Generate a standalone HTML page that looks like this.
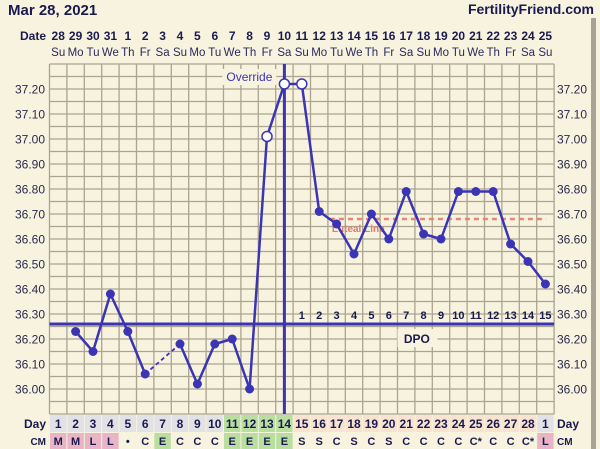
<!DOCTYPE html>
<html><head><meta charset="utf-8"><style>
html,body{margin:0;padding:0;background:#f7f3de;}
svg{display:block;font-family:"Liberation Sans",Verdana,sans-serif;}
</style></head><body>
<svg id="chart" width="600" height="449" viewBox="0 0 600 449">
<rect x="0" y="0" width="600" height="449" fill="#f7f3de"/>
<rect x="591" y="18" width="5" height="431" fill="#a8a396"/>
<text x="8" y="15" font-size="15" font-weight="bold" fill="#1a1a4e">Mar 28, 2021</text>
<text x="594" y="14" font-size="14" font-weight="bold" fill="#1a1a4e" text-anchor="end">FertilityFriend.com</text>
<text x="46" y="40" font-size="12" font-weight="bold" fill="#1a1a4e" text-anchor="end">Date</text>
<g id="grid"></g>
<g id="rows"></g>
<g id="marks"></g>
</svg>
<script>
const dates = ["28","29","30","31","1","2","3","4","5","6","7","8","9","10","11","12","13","14","15","16","17","18","19","20","21","22","23","24","25"];
const weekdays = ["Su","Mo","Tu","We","Th","Fr","Sa","Su","Mo","Tu","We","Th","Fr","Sa","Su","Mo","Tu","We","Th","Fr","Sa","Su","Mo","Tu","We","Th","Fr","Sa","Su"];
const cycleDays = ["1","2","3","4","5","6","7","8","9","10","11","12","13","14","15","16","17","18","19","20","21","22","23","24","25","26","27","28","1"];
const cmValues = ["M","M","L","L","•","C","E","C","C","C","E","E","E","E","S","S","C","S","C","S","C","C","C","C","C*","C","C","C*","L"];
const temps = [null,36.23,36.15,36.38,36.23,36.06,null,36.18,36.02,36.18,36.20,36.00,37.01,37.22,37.22,36.71,36.66,36.54,36.70,36.60,36.79,36.62,36.60,36.79,36.79,36.79,36.58,36.51,36.42];
const openPoints = [12,13,14];
const yTicks = [36.00,36.10,36.20,36.30,36.40,36.50,36.60,36.70,36.80,36.90,37.00,37.10,37.20];
const dpoLabels = ["1","2","3","4","5","6","7","8","9","10","11","12","13","14","15"];
const coverline = 36.26;
const lutealLine = 36.68;
const ovulationIndex = 13;
const dpoStart = 14;

const NS="http://www.w3.org/2000/svg";
const L=49.5, W=17.4, N=29, TOP=64, BOT=414;
const xc=i=>L+(i+0.5)*W;
const y=v=>89+(37.2-v)*250;
function mk(tag,attrs,parent,text){const e=document.createElementNS(NS,tag);for(const k in attrs)e.setAttribute(k,attrs[k]);if(text!==undefined)e.textContent=text;parent.appendChild(e);return e;}
const svg=document.getElementById('chart');
const grid=document.getElementById('grid'), rows=document.getElementById('rows'), marks=document.getElementById('marks');

dates.forEach((d,i)=>{
  const t=mk('text',{x:xc(i),y:40,'font-size':12,'font-weight':'bold',fill:'#1a1a4e','text-anchor':'middle'},svg,d);
  
  
  const w=mk('text',{x:xc(i),y:56,'font-size':11.5,fill:'#2a2a5e','text-anchor':'middle'},svg,weekdays[i]);
  
  
});
for(let v=35.90;v<=37.301;v+=0.05){
  const yy=y(v); if(yy<TOP-0.5||yy>BOT+0.5) continue;
  const l=mk('line',{x1:L,x2:L+N*W,y1:yy,y2:yy,stroke:'#aaa491','stroke-width':1.3},grid);
  
  
}
for(let i=0;i<=N;i++){
  const l=mk('line',{x1:L+i*W,x2:L+i*W,y1:TOP,y2:BOT,stroke:'#aaa491','stroke-width':1.3},grid);
  
  
}
yTicks.forEach(v=>{
  const a=mk('text',{x:45,y:y(v)+4.5,'font-size':12,fill:'#2a2a4e','text-anchor':'end'},svg,v.toFixed(2));
  
  
  const b=mk('text',{x:557,y:y(v)+4.5,'font-size':12,fill:'#2a2a4e'},svg,v.toFixed(2));
  
  
});
cycleDays.forEach((d,i)=>{
  let bg='#e2e2e6'; if(i>=10&&i<=13) bg='#b9dea0'; else if(i>=14&&i<=27) bg='#f7e3cf';
  const r=mk('rect',{x:L+i*W+0.5,y:415,width:W-1,height:17,fill:bg},rows);
  
  
  const t=mk('text',{x:xc(i),y:428,'font-size':12,'font-weight':'bold',fill:'#1a1a4e','text-anchor':'middle'},rows,d);
  
  
  const c=cmValues[i];
  let cb='#f7f3de'; if(c==='M'||c==='L') cb='#e8b4c6'; else if(c==='E') cb='#b9dea0';
  const r2=mk('rect',{x:L+i*W+0.5,y:433,width:W-1,height:16,fill:cb},rows);
  
  
  const t2=mk('text',{x:xc(i),y:445,'font-size':11,'font-weight':'bold',fill:'#1a1a4e','text-anchor':'middle'},rows,c);
  
  
});
[['Day',428,12],['CM',445,10]].forEach(([s,yy,fs])=>{
  const a=mk('text',{x:46,y:yy,'font-size':fs,'font-weight':'bold',fill:'#1a1a4e','text-anchor':'end'},rows,s);
  
  
  const b=mk('text',{x:557,y:yy,'font-size':fs,'font-weight':'bold',fill:'#1a1a4e'},rows,s);
  
  
});
const ll=mk('line',{x1:L+16*W+2,x2:L+N*W-8,y1:y(lutealLine),y2:y(lutealLine),stroke:'#e8857a','stroke-width':2.5,'stroke-dasharray':'5,4'},marks);


const lt=mk('text',{x:L+16*W+4,y:y(lutealLine)+13,'font-size':10,'font-weight':'bold',fill:'#e07a72'},marks,'Luteal Line');


const cl=mk('line',{x1:L,x2:L+N*W,y1:y(coverline),y2:y(coverline),stroke:'#3b35b5','stroke-width':3},marks);


const ol=mk('line',{x1:xc(ovulationIndex),x2:xc(ovulationIndex),y1:TOP,y2:BOT,stroke:'#3b35b5','stroke-width':3},marks);


const ob=mk('rect',{x:xc(ovulationIndex)-62,y:69,width:54,height:16,fill:'#f7f3de'},marks);


const ot=mk('text',{x:xc(ovulationIndex)-35,y:81,'font-size':12,fill:'#3b35b5','text-anchor':'middle'},marks,'Override');


const db=mk('rect',{x:L+20*W,y:329,width:40,height:18,fill:'#f7f3de'},marks);


const dt=mk('text',{x:L+21*W+2,y:343,'font-size':12,'font-weight':'bold',fill:'#1a1a4e','text-anchor':'middle'},marks,'DPO');


dpoLabels.forEach((d,k)=>{
  const t=mk('text',{x:xc(dpoStart+k),y:y(coverline)-5,'font-size':11,'font-weight':'bold',fill:'#1a1a4e','text-anchor':'middle'},marks,d);
  
  
});
let prev=-1;
temps.forEach((v,i)=>{
  if(v===null) return;
  if(prev>=0){
    const dashed=(i-prev)>1;
    const s=mk('line',{x1:xc(prev),y1:y(temps[prev]),x2:xc(i),y2:y(v),stroke:'#3b35b5','stroke-width':dashed?1.8:2.5},marks);
    if(dashed) s.setAttribute('stroke-dasharray','4,3');
    
    
  }
  prev=i;
});
temps.forEach((v,i)=>{
  if(v===null) return;
  const open=openPoints.includes(i);
  const c=mk('circle',{cx:xc(i),cy:y(v),r:open?5:4.5,fill:open?'#ffffff':'#3b35b5',stroke:'#3b35b5','stroke-width':open?1.5:0},marks);
  
  
});
</script>
</body></html>
